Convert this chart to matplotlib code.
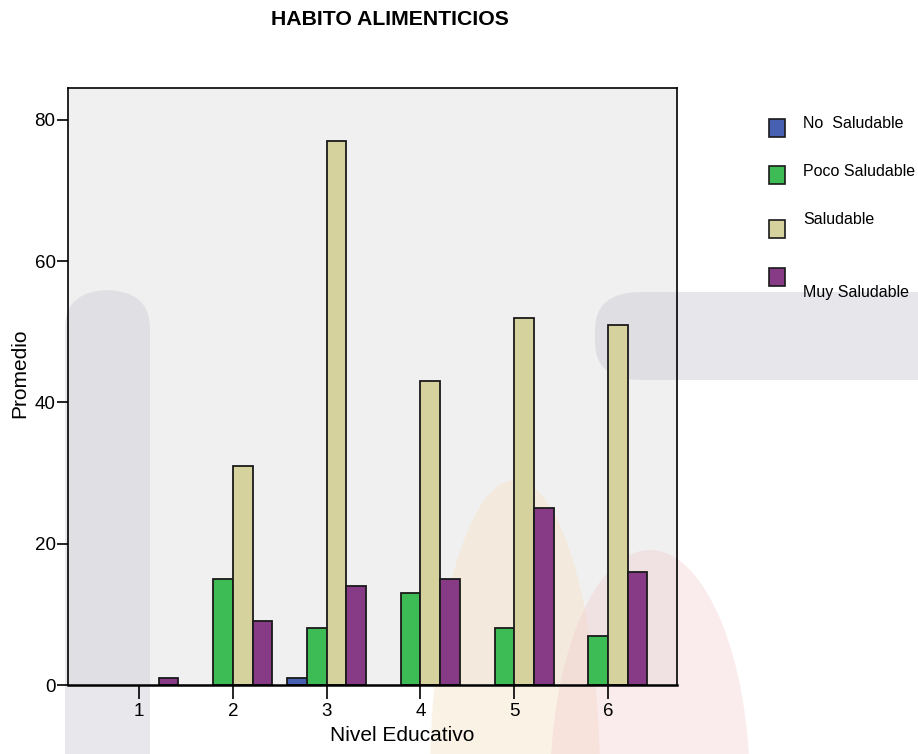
import matplotlib
matplotlib.use("Agg")
import matplotlib.pyplot as plt
from matplotlib.patches import Rectangle, Ellipse, FancyBboxPatch
import numpy as np

# Nivel educativo y promedio por categoría de hábito
niveles = [1, 2, 3, 4, 5, 6]
no_saludable = [0, 0, 1, 0, 0, 0]
poco_saludable = [0, 15, 8, 13, 8, 7]
saludable = [0, 31, 77, 43, 52, 51]
muy_saludable = [1, 9, 14, 15, 25, 16]

series = [
    ("No  Saludable", no_saludable, "#4760b2"),
    ("Poco Saludable", poco_saludable, "#3dbb55"),
    ("Saludable", saludable, "#d6d29e"),
    ("Muy Saludable", muy_saludable, "#873a86"),
]

plt.rcParams["font.family"] = ["Liberation Sans", "DejaVu Sans"]

W, H = 918, 754
fig = plt.figure(figsize=(W / 100, H / 100), dpi=100)
ax = fig.add_axes([68 / W, 1 - 685 / H, 609 / W, 597 / H])
ax.set_facecolor("#f0f0f0")


def px(x, y):
    # coordenadas en píxeles (desde arriba) -> fracción de figura
    return x / W, 1 - y / H


# Marca de agua tenue del fondo
fondo = [
    FancyBboxPatch(px(65, 900), 85 / W, 610 / H, boxstyle="round,pad=0,rounding_size=0.05",
                   facecolor="#d2d2da", alpha=0.5, edgecolor="none"),
    FancyBboxPatch(px(595, 380), 420 / W, 88 / H, boxstyle="round,pad=0,rounding_size=0.05",
                   facecolor="#d0d0d8", alpha=0.5, edgecolor="none"),
    Ellipse(px(515, 780), 170 / W, 600 / H, facecolor="#f7e4c8", alpha=0.45, edgecolor="none"),
    Ellipse(px(650, 790), 200 / W, 480 / H, facecolor="#f2c6cc", alpha=0.35, edgecolor="none"),
]
for p in fondo:
    p.set_transform(fig.transFigure)
    p.set_clip_on(False)
    p.set_zorder(1)
    ax.add_artist(p)

w = 0.21
x = np.array(niveles, dtype=float)
for k, (nombre, valores, color) in enumerate(series):
    for xi, v in zip(x, valores):
        if v <= 0:
            continue
        ax.bar(xi + (k - 2) * w, v, width=w, align="edge", color=color,
               edgecolor="#1a1a1a", linewidth=1.3, zorder=3)

ax.set_xlim(0.243, 6.735)
ax.set_ylim(0, 84.5)
ax.set_xticks(niveles)
ax.set_yticks([0, 20, 40, 60, 80])
ax.tick_params(axis="x", direction="out", length=10, width=1.2, labelsize=13.5, pad=3)
ax.tick_params(axis="y", direction="out", length=8, width=1.2, labelsize=13.5, pad=1)
for s in ax.spines.values():
    s.set_linewidth(1.2)
    s.set_zorder(4)
ax.spines["bottom"].set_linewidth(1.8)

ax.set_xlabel("Nivel Educativo", fontsize=15)
ax.xaxis.set_label_coords((402 - 68) / 609, -0.068)
ax.set_ylabel("Promedio", fontsize=15)
ax.yaxis.set_label_coords(-0.064, (685 - 373) / 597)
fig.text(390 / W, 1 - 10 / H, "HABITO ALIMENTICIOS", ha="center", va="top",
         fontsize=15.3, fontweight="bold")

# Leyenda dibujada a mano
cajas = [119, 166, 220, 268]
textos = [124, 172, 220, 292]
for (nombre, _, color), cy, ty in zip(series, cajas, textos):
    fig.patches.append(Rectangle(px(769, cy + 18), 16 / W, 18 / H,
                                 transform=fig.transFigure, facecolor=color,
                                 edgecolor="#1a1a1a", linewidth=1.2))
    fig.text(803 / W, 1 - ty / H, nombre, ha="left", va="center", fontsize=11.5)

fig.savefig("out.png", dpi=100, facecolor="white")
